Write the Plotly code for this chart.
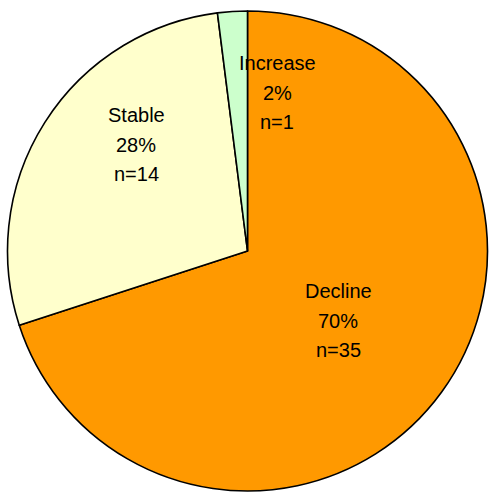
import plotly.graph_objects as go

W, H = 489, 494

categories = ["Decline", "Stable", "Increase"]
counts = [35, 14, 1]
colors = ["#FF9900", "#FFFFCC", "#CCFFCC"]

# label anchor positions (pixel centre of the first text line)
label_pos = {"Decline": (338, 291), "Stable": (136, 115), "Increase": (277, 63)}
LINE_GAP = 29.5

total = sum(counts)

fig = go.Figure(
    go.Pie(
        labels=categories,
        values=counts,
        marker=dict(colors=colors, line=dict(color="black", width=1.6)),
        sort=False,
        direction="clockwise",
        rotation=0,
        textinfo="none",
        hoverinfo="label+value+percent",
        domain=dict(x=[7.5 / W, 487.5 / W], y=[1 - 491 / H, 1 - 11 / H]),
        showlegend=False,
    )
)

for cat, n in zip(categories, counts):
    px, py = label_pos[cat]
    lines = [cat, f"{round(100 * n / total)}%", f"n={n}"]
    for i, line in enumerate(lines):
        fig.add_annotation(
            x=px / W,
            y=1 - (py + i * LINE_GAP) / H,
            xref="paper",
            yref="paper",
            text=line,
            showarrow=False,
            xanchor="center",
            yanchor="middle",
            font=dict(family="Liberation Sans, Arial, sans-serif", size=20, color="black"),
        )

fig.update_layout(
    width=W,
    height=H,
    margin=dict(l=0, r=0, t=0, b=0),
    paper_bgcolor="white",
    plot_bgcolor="white",
)

# drop the default page margin so the figure fills the window
fig.write_html(
    "out.html",
    config={"displayModeBar": False},
    post_script="document.body.style.margin='0';document.body.style.overflow='hidden';",
)
